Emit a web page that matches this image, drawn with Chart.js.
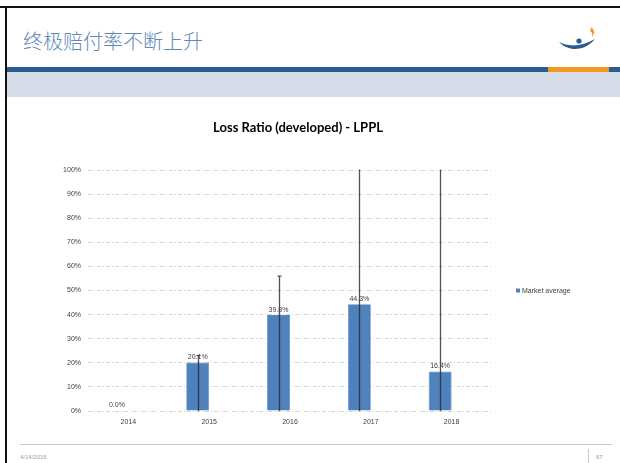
<!DOCTYPE html>
<html>
<head>
<meta charset="utf-8">
<script src="https://cdn.jsdelivr.net/npm/chart.js@4/dist/chart.umd.min.js"></script>
<style>
  html,body{margin:0;padding:0;background:#fff;}
  #page{position:relative;width:620px;height:463px;overflow:hidden;background:#fff;}
  #chartWrap{position:absolute;left:0;top:0;width:620px;height:463px;}
  .abs{position:absolute;}
</style>
</head>
<body>
<div id="page">
  <div class="abs" style="left:0;top:6px;width:620px;height:2px;background:#111;"></div>
  <div class="abs" style="left:5px;top:6px;width:2px;height:457px;background:#111;"></div>
  <div class="abs" style="left:23px;top:29px;font-family:'Noto Sans CJK SC';font-size:20px;line-height:24px;color:#6088b5;font-weight:300;">终极赔付率不断上升</div>
  <svg class="abs" style="left:555px;top:24px;" width="48" height="30" viewBox="0 0 48 30">
    <path d="M36 3 C40 6 40 10 37 13 C38 10 37 8 35 7 C36 6 36 4 36 3 Z" fill="#f39a1e"/>
    <path d="M4 18 C12 22 24 24 40 15 C32 25 16 30 4 18 Z" fill="#2a5c8f"/>
    <circle cx="24" cy="17" r="2.6" fill="#2a5c8f"/>
  </svg>
  <div class="abs" style="left:7px;top:67px;width:613px;height:5px;background:#2a5c8f;"></div>
  <div class="abs" style="left:548px;top:67px;width:61px;height:5px;background:#f39a1e;"></div>
  <div class="abs" style="left:7px;top:72px;width:613px;height:25px;background:#d6dde8;"></div>
  <div class="abs" style="left:20px;top:444px;width:592px;height:1px;background:#c8c8c8;"></div>
  <div class="abs" style="left:20px;top:454px;font-family:'Liberation Sans';font-size:6px;color:#a0a0a0;">4/14/2016</div>
  <div class="abs" style="left:588px;top:449px;width:1px;height:14px;background:#c8c8c8;"></div>
  <div class="abs" style="left:596px;top:454px;font-family:'Liberation Sans';font-size:6px;color:#a0a0a0;">67</div>
  <div id="chartWrap"><canvas id="c" width="620" height="463"></canvas></div>
</div>
<script>
const categories = ['2014', '2015', '2016', '2017', '2018'];
const marketAverage = [0.0, 20.1, 39.8, 44.3, 16.4];
const errLow = [null, 0, 0, 0, 0];
const errHigh = [null, 23, 56, 110, 110];
const yTicks = [0, 10, 20, 30, 40, 50, 60, 70, 80, 90, 100];
const seriesName = 'Market average';
const chartTitle = 'Loss Ratio (developed) - LPPL';

const errorBarPlugin = {
  id: 'errorBars',
  afterDatasetsDraw(chart) {
    const ctx = chart.ctx, y = chart.scales.y, area = chart.chartArea;
    const meta = chart.getDatasetMeta(0);
    ctx.save();
    ctx.beginPath();
    ctx.rect(area.left, area.top - 0.5, area.right - area.left, area.bottom - area.top + 1);
    ctx.clip();
    ctx.strokeStyle = 'rgba(40,40,40,0.8)';
    ctx.lineWidth = 1.3;
    meta.data.forEach((bar, i) => {
      if (errLow[i] == null || errHigh[i] == null) return;
      const x = Math.round(bar.x) + 0.5;
      const y0 = y.getPixelForValue(errLow[i]);
      const y1 = y.getPixelForValue(errHigh[i]);
      ctx.beginPath();
      ctx.moveTo(x, y0); ctx.lineTo(x, y1);
      ctx.moveTo(x - 2, y1); ctx.lineTo(x + 2, y1);
      ctx.stroke();
    });
    ctx.restore();
  }
};

const labelsPlugin = {
  id: 'labelsAndLegend',
  afterDatasetsDraw(chart) {
    const ctx = chart.ctx, area = chart.chartArea;
    const meta = chart.getDatasetMeta(0);
    ctx.save();
    ctx.font = '7px "Liberation Sans"';
    ctx.fillStyle = '#404040';
    ctx.textAlign = 'center';
    ctx.textBaseline = 'bottom';
    meta.data.forEach((bar, i) => {
      ctx.fillText(marketAverage[i].toFixed(1) + '%', bar.x, bar.y - 2);
    });
    const ds = chart.data.datasets[0];
    const ly = (area.top + area.bottom) / 2;
    const lx = area.right + 24;
    ctx.fillStyle = ds.backgroundColor;
    ctx.fillRect(lx, ly - 2, 4, 4);
    ctx.fillStyle = '#404040';
    ctx.textAlign = 'left';
    ctx.textBaseline = 'middle';
    ctx.fillText(ds.label, lx + 6, ly + 0.5);
    ctx.font = 'bold 13px Lato';
    ctx.fillStyle = '#000';
    ctx.textAlign = 'center';
    ctx.fillText(chartTitle, (area.left + area.right) / 2 + 8, area.top - 42);
    ctx.restore();
  }
};

new Chart(document.getElementById('c'), {
  type: 'bar',
  data: {
    labels: categories,
    datasets: [
      { label: seriesName, data: marketAverage, backgroundColor: '#4f81bd', borderColor: '#5a8ac6', borderWidth: 0.8, categoryPercentage: 0.568, barPercentage: 1 },
      { label: '', data: categories.map(() => null), backgroundColor: 'rgba(0,0,0,0)', categoryPercentage: 0.568, barPercentage: 1 }
    ]
  },
  options: {
    responsive: false,
    animation: false,
    layout: { padding: { left: 50, right: 128, top: 170, bottom: 30 } },
    plugins: {
      title: { display: false },
      legend: { display: false },
      tooltip: { enabled: false }
    },
    scales: {
      x: {
        grid: { display: false, drawTicks: false },
        border: { display: false },
        ticks: { color: '#404040', font: { family: 'Liberation Sans', size: 7 }, padding: 7, maxRotation: 0 },
        afterFit: (s) => { s.height = 22; }
      },
      y: {
        min: 0, max: 100,
        afterBuildTicks: (s) => { s.ticks = yTicks.map(v => ({ value: v })); },
        ticks: { color: '#404040', font: { family: 'Liberation Sans', size: 7 }, padding: 7, callback: (v) => v + '%' },
        grid: { color: '#c8c8c8', lineWidth: 0.8, drawTicks: false },
        border: { display: false, dash: [4, 2, 1, 2] },
        afterFit: (s) => { s.width = 38; }
      }
    }
  },
  plugins: [errorBarPlugin, labelsPlugin]
});
</script>
</body>
</html>
